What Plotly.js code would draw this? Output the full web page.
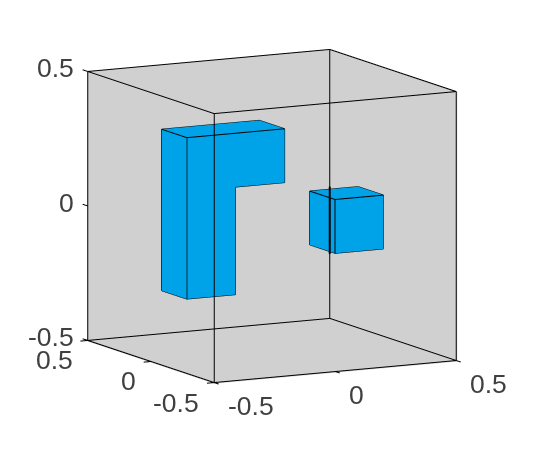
<!DOCTYPE html>
<html>
<head>
<meta charset="utf-8">
<script src="https://cdn.plot.ly/plotly-3.0.1.min.js"></script>
<style>html,body{margin:0;padding:0;background:#fff;}</style>
</head>
<body>
<div id="chart" style="width:560px;height:452px;"></div>
<script>
// L shaped block, profile in x/z, then two y faces
const lX = [-0.404, -0.203, -0.203, 0, 0, -0.404];
const lZ = [-0.26, -0.26, 0.14, 0.14, 0.34, 0.34];
const lY = [-0.1, 0.1];
const lCaps = [[0,1,2],[0,2,5],[2,3,4],[2,4,5]];

// small cube
const cubeX = [0.208, 0.408, 0.408, 0.208];
const cubeZ = [-0.14, -0.14, 0.06, 0.06];
const cubeY = [-0.1, 0.1];
const cubeCaps = [[0,1,2],[0,2,3]];

const tickVals = [-0.5, 0, 0.5];
const tickText = ['-0.5', '0', '0.5'];
const lo = -0.5, hi = 0.5;

const blue = '#00a2e8';
const gray = '#d0d0d0';
const ink = '#404040';
const view = [-0.4535, -0.8677, 0.1731];
const boxScale = 1.391;
const font = {family:'"Liberation Sans", Arial, sans-serif', size:26.5, color:ink};

const flat = {ambient:1, diffuse:0, specular:0, roughness:1, fresnel:0};

// extrude a closed x/z profile along y
function extrude(px, pz, ys, caps){
    const n = px.length;
    const x = [...px, ...px];
    const y = [...px.map(() => ys[0]), ...px.map(() => ys[1])];
    const z = [...pz, ...pz];
    const i = [], j = [], k = [];
    caps.forEach(t => {
        i.push(t[0]); j.push(t[1]); k.push(t[2]);
        i.push(t[0]+n); j.push(t[1]+n); k.push(t[2]+n);
    });
    for(let a = 0; a < n; a++){
        const b = (a+1) % n;
        i.push(a, a); j.push(b, b+n); k.push(b+n, a+n);
    }
    const mesh = {type:'mesh3d', x, y, z, i, j, k, color:blue, opacity:1, flatshading:true,
        lighting:flat, hoverinfo:'skip', showscale:false};

    const segs = [];
    for(let a = 0; a < n; a++){
        const b = (a+1) % n;
        segs.push([[x[a],y[a],z[a]],[x[b],y[b],z[b]]]);
        segs.push([[x[a+n],y[a+n],z[a+n]],[x[b+n],y[b+n],z[b+n]]]);
        segs.push([[x[a],y[a],z[a]],[x[a+n],y[a+n],z[a+n]]]);
    }
    return [mesh, lines(segs, 2)];
}

function lines(segs, width){
    const ex = [], ey = [], ez = [];
    segs.forEach(s => {
        ex.push(s[0][0], s[1][0], null);
        ey.push(s[0][1], s[1][1], null);
        ez.push(s[0][2], s[1][2], null);
    });
    return {type:'scatter3d', mode:'lines', x:ex, y:ey, z:ez,
        line:{color:'#000000', width}, hoverinfo:'skip', showlegend:false};
}

// the three far walls of the box, pushed back a hair so the edges stay on top
function walls(){
    const o = 0.004;
    const xw = hi+o, yw = hi+o, zw = lo-o;
    const q = [[xw,lo,zw],[xw,yw,zw],[xw,yw,hi],[xw,lo,hi],
               [lo,yw,zw],[lo,yw,hi],[lo,lo,zw]];
    return {type:'mesh3d', x:q.map(p=>p[0]), y:q.map(p=>p[1]), z:q.map(p=>p[2]),
        i:[0,0,4,4,6,6], j:[1,2,1,2,0,1], k:[2,3,2,5,1,4],
        color:gray, opacity:1, flatshading:true, lighting:flat, hoverinfo:'skip', showscale:false};
}

// box edges and ticks
function frame(){
    const segs = [];
    [lo,hi].forEach(a => [lo,hi].forEach(b => {
        segs.push([[lo,a,b],[hi,a,b]]);
        segs.push([[a,lo,b],[a,hi,b]]);
        segs.push([[a,b,lo],[a,b,hi]]);
    }));
    tickVals.forEach(t => {
        segs.push([[t,lo,lo],[t,lo-0.035,lo]]);
        segs.push([[lo,t,lo],[lo-0.03,t,lo]]);
        segs.push([[lo,hi,t],[lo,hi+0.04,t]]);
    });
    return lines(segs, 2);
}

// far vertical edge stays visible across the cube
function farEdgeOverCube(){
    const t = 0.8;
    const s = z => [hi+view[0]*t, hi+view[1]*t, z+view[2]*t];
    return lines([[s(-0.26), s(-0.01)]], 4);
}

function tickLabels(){
    const out = [];
    const common = {showarrow:false, font, borderpad:0, borderwidth:0, yanchor:'middle'};
    tickVals.forEach((t, n) => {
        out.push({...common, x:lo, y:hi, z:t, text:tickText[n], xanchor:'right', xshift:-14, yshift:3});
        out.push({...common, x:lo, y:t, z:lo, text:tickText[n], xanchor:'right', xshift:-15, yshift:-20});
        out.push({...common, x:t, y:lo, z:lo, text:tickText[n], xanchor:'left', xshift:14, yshift:-23});
    });
    return out;
}

function axis(){
    return {range:[-0.55, 0.55], autorange:false, visible:false, showspikes:false};
}

const data = [walls(), ...extrude(lX, lZ, lY, lCaps), ...extrude(cubeX, cubeZ, cubeY, cubeCaps),
    frame(), farEdgeOverCube()];

const layout = {
    width:560, height:452,
    margin:{l:0, r:0, t:0, b:0},
    paper_bgcolor:'#ffffff',
    showlegend:false,
    scene:{
        domain:{x:[0, 544/560], y:[20/452, 1]},
        xaxis:axis(), yaxis:axis(), zaxis:axis(),
        aspectmode:'manual',
        aspectratio:{x:boxScale, y:boxScale, z:boxScale},
        annotations:tickLabels(),
        camera:{
            projection:{type:'orthographic'},
            up:{x:0, y:0, z:1},
            center:{x:0, y:0, z:0},
            eye:{x:view[0]*2, y:view[1]*2, z:view[2]*2}
        }
    }
};

Plotly.newPlot('chart', data, layout, {displayModeBar:false});
</script>
</body>
</html>
